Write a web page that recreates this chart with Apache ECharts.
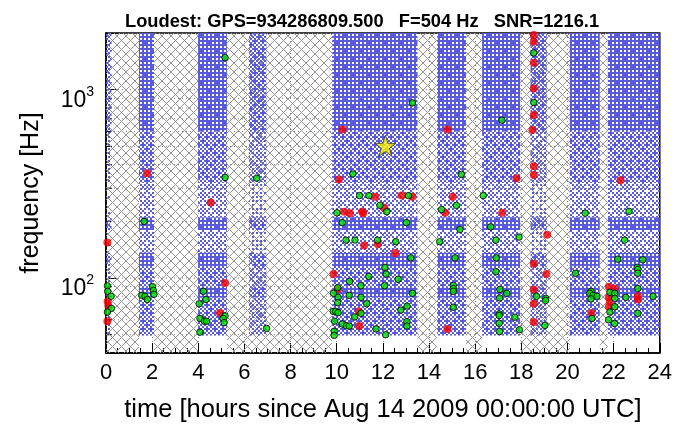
<!DOCTYPE html>
<html>
<head>
<meta charset="utf-8">
<script src="https://cdn.jsdelivr.net/npm/echarts@6/dist/echarts.min.js"></script>
<style>
  html, body { margin: 0; padding: 0; background: #fff; }
  #chart { width: 675px; height: 428px; }
</style>
</head>
<body>
<div id="chart"></div>
<script>
// ---- Data ----------------------------------------------------------------
// Axis ranges
const timeRange = [0, 24];          // hours
const freqRange = [40, 2000];       // Hz

// Vetoed / dead-time segments [start h, end h]
const deadSegments = [
  [0, 1.43], [2.08, 3.99], [5.24, 9.8], [13.5, 14.35],
  [15.6, 16.3], [17.95, 20.1], [21.4, 21.75]
];

// Segments with triggers [start h, end h, rate offset]
const liveSegments = [
  [0, 0.24, -2], [1.43, 2.08, 0], [3.99, 5.24, 0], [6.2, 6.95, -1],
  [9.8, 13.5, 0], [14.35, 15.6, 0], [16.3, 17.95, 0], [18.4, 19.1, -1],
  [20.1, 21.4, 0], [21.75, 24, 0]
];

// Frequency bands of the trigger cloud [low Hz, high Hz, rate level]
const triggerBands = [
  [900, 2000, 3], [600, 900, 3], [320, 600, 2], [210, 320, 1], [180, 210, 3],
  [136, 180, 1], [116, 136, 3], [90, 116, 2], [79, 90, 3], [49.5, 79, 2]
];

// Dotted frequency grid lines (Hz)
const freqGridLines = [50, 60, 70, 80, 90, 100, 200, 300, 400, 500, 600, 700, 800, 900, 1000];

// Clustered events [hour, Hz]
const greenEvents = [
  [0.06, 91], [0.07, 85], [0.22, 80], [0.23, 69], [0.06, 66],
  [1.65, 200], [1.55, 81], [1.69, 80], [1.79, 77], [2.02, 90], [2.05, 86], [2.08, 82],
  [5.16, 1480], [5.16, 342], [4.22, 85], [4.33, 77], [4.04, 73], [5.16, 63], [5.08, 61],
  [5.12, 58], [4.07, 61], [4.26, 59], [4.36, 59], [4.07, 51.6],
  [6.53, 339], [6.96, 54],
  [13.28, 851], [10.7, 357], [10.99, 274], [11.39, 274], [13.11, 274], [11.87, 243],
  [12.17, 225], [10.01, 222], [10.24, 197], [13.02, 197], [10.40, 159], [10.79, 159],
  [11.77, 159], [12.56, 156], [13.21, 128], [12.09, 114], [12.14, 105], [11.39, 102],
  [12.66, 98.5], [10.56, 96], [12.07, 91], [11.05, 91], [10.04, 89], [10.06, 79],
  [10.04, 74], [9.86, 83], [10.54, 81], [11.05, 79], [13.28, 83], [11.3, 73], [13.05, 71],
  [12.78, 67.6], [9.85, 66.5], [9.96, 66.5], [10.06, 65.5], [11.05, 65], [10.78, 62.2],
  [9.91, 59], [10.24, 57], [10.42, 55.8], [10.54, 55.6], [11.70, 53.7], [12.12, 50],
  [9.89, 52.2], [9.89, 49.6], [13.04, 58.7], [13.04, 55.6],
  [15.4, 355], [15.19, 243], [14.54, 231], [15.34, 181], [14.46, 156], [15.13, 128],
  [15.05, 91.3], [15.05, 87.9], [15.05, 85], [15.05, 70],
  [16.35, 274], [16.67, 187], [17.16, 689], [17.9, 165], [16.9, 159], [16.91, 128],
  [16.9, 108], [17.07, 87], [17.37, 83], [17.06, 78.4], [17.04, 64.5], [17.04, 63.2],
  [17.72, 62], [17.04, 57.5], [17.06, 52], [17.92, 53.2],
  [18.54, 1567], [18.54, 855], [18.66, 80], [19.06, 78], [19.05, 76], [19.02, 56],
  [20.77, 221], [20.35, 106], [21.02, 85], [20.97, 83], [21.11, 81], [21.28, 80],
  [21.02, 77.5], [21.06, 61],
  [21.84, 84], [22.05, 83], [22.05, 78], [22.05, 70.5], [21.84, 66], [21.78, 60], [22.04, 57.4],
  [22.67, 226], [22.48, 159], [22.18, 126], [23.26, 125], [23.02, 114], [23.05, 111],
  [23.05, 106], [23.05, 88], [22.53, 79], [23.71, 80], [23.05, 65]
];

const redEvents = [
  [0.06, 154.5], [0.07, 75], [0.1, 71], [0.06, 59],
  [1.78, 360],
  [4.54, 252], [5.16, 94], [4.94, 65.3],
  [10.25, 615], [14.8, 615],
  [18.54, 1950], [18.54, 1795], [18.54, 1390], [18.54, 1016], [18.54, 734], [18.48, 611],
  [18.54, 392], [18.54, 353],
  [17.79, 339], [22.3, 331], [17.17, 222], [19.12, 170], [18.54, 119], [19.09, 105],
  [18.54, 87], [18.54, 73], [18.54, 58.5],
  [21.79, 90], [22.05, 88], [21.79, 79], [21.84, 75], [21.79, 70.5], [21.04, 65.3],
  [23.05, 80], [23.05, 77],
  [10.09, 334], [11.67, 270], [12.81, 274], [13.28, 270], [12.06, 236], [10.32, 225],
  [10.57, 221], [11.10, 225], [11.15, 221], [11.19, 149], [11.78, 151], [12.53, 136],
  [9.86, 105], [10.06, 87.5], [10.96, 66.5], [10.98, 55.6],
  [15.03, 270], [14.7, 222], [14.8, 53.7]
];

// Loudest event [hour, Hz]
const loudestEvent = [[12.11, 504]];
const titleText = 'Loudest: GPS=934286809.500   F=504 Hz   SNR=1216.1';

// ---- Fill patterns -------------------------------------------------------
const FONT = '"Liberation Sans", Arial, Helvetica, sans-serif';
// 8x8 ordered-dither thresholds; rows/columns visited in a shuffled order
// so the stipple reads as scattered points rather than a lattice
const DITHER = [
  [0, 32, 8, 40, 2, 34, 10, 42],
  [48, 16, 56, 24, 50, 18, 58, 26],
  [12, 44, 4, 36, 14, 46, 6, 38],
  [60, 28, 52, 20, 62, 30, 54, 22],
  [3, 35, 11, 43, 1, 33, 9, 41],
  [51, 19, 59, 27, 49, 17, 57, 25],
  [15, 47, 7, 39, 13, 45, 5, 37],
  [63, 31, 55, 23, 61, 29, 53, 21]
];
const ROW_ORDER = [0, 5, 2, 7, 4, 1, 6, 3];
const COL_ORDER = [0, 3, 6, 1, 4, 7, 2, 5];
const levelCover = [0.08, 0.2, 0.4, 0.58, 0.78];

function dotPattern(cover) {
  const cell = 2, n = 8;
  const c = document.createElement('canvas');
  c.width = cell * n; c.height = cell * n;
  const g = c.getContext('2d');
  g.fillStyle = '#5a5adc';
  for (let r = 0; r < n; r++) {
    for (let q = 0; q < n; q++) {
      if (DITHER[ROW_ORDER[r]][COL_ORDER[q]] < cover * 64) {
        g.fillRect(q * cell, r * cell, cell, cell);
      }
    }
  }
  return { image: c, repeat: 'repeat' };
}

function hatchPattern() {
  const s = 9;
  const c = document.createElement('canvas');
  c.width = s; c.height = s;
  const g = c.getContext('2d');
  g.strokeStyle = '#949494';
  g.lineWidth = 1;
  g.beginPath();
  g.moveTo(-1, -1); g.lineTo(s + 1, s + 1);
  g.moveTo(-1, s + 1); g.lineTo(s + 1, -1);
  g.stroke();
  return { image: c, repeat: 'repeat' };
}

const dotFills = levelCover.map(dotPattern);
const hatchFill = hatchPattern();

// Trigger-cloud rectangles: every live segment crossed with every band
const cloudRects = [];
liveSegments.forEach(([t0, t1, off]) => {
  triggerBands.forEach(([f0, f1, lvl]) => {
    const level = Math.max(0, Math.min(4, lvl + 1 + off));
    cloudRects.push([t0, t1, f0, f1, level]);
  });
});

// ---- Chart ---------------------------------------------------------------
const chart = echarts.init(document.getElementById('chart'), null, { renderer: 'canvas' });

const option = {
  animation: false,
  backgroundColor: '#fff',
  title: {
    text: titleText,
    left: 120,
    top: 8,
    textStyle: { fontFamily: FONT, fontSize: 18.3, fontWeight: 'bold', color: '#000' }
  },
  grid: {
    left: 106, right: 15, top: 33, bottom: 63,
    show: true, borderColor: '#000', borderWidth: 1.5, backgroundColor: '#fff'
  },
  xAxis: {
    type: 'value',
    min: timeRange[0], max: timeRange[1], interval: 2,
    axisLine: { lineStyle: { color: '#000', width: 1.5 } },
    axisTick: { inside: true, length: 10, lineStyle: { color: '#000' } },
    minorTick: { show: true, splitNumber: 4, length: 5, lineStyle: { color: '#000' } },
    splitLine: { show: true, lineStyle: { color: '#808080', type: [1, 3], width: 1 } },
    axisLabel: { fontFamily: FONT, fontSize: 22, color: '#000', margin: 9 },
    name: 'time [hours since Aug 14 2009 00:00:00 UTC]',
    nameLocation: 'middle',
    nameGap: 44,
    nameTextStyle: { fontFamily: FONT, fontSize: 25.5, color: '#000' }
  },
  yAxis: {
    type: 'log',
    logBase: 10,
    min: freqRange[0], max: freqRange[1],
    axisLine: { lineStyle: { color: '#000', width: 1.5 } },
    axisTick: { inside: true, length: 12, lineStyle: { color: '#000' } },
    splitLine: { show: false },
    axisLabel: {
      margin: 12,
      verticalAlign: 'middle',
      padding: [21, 0, 0, 0],
      formatter: function (v) {
        const e = Math.log10(v);
        if (Math.abs(e - Math.round(e)) > 1e-6) return '';
        return '{b|10}{s|' + Math.round(e) + '}';
      },
      rich: {
        b: { fontFamily: FONT, fontSize: 23, color: '#000', lineHeight: 26 },
        s: { fontFamily: FONT, fontSize: 14, color: '#000', lineHeight: 12, padding: [0, 0, 17, 0] }
      }
    },
    name: 'frequency [Hz]',
    nameLocation: 'middle',
    nameGap: 62,
    nameRotate: 90,
    nameTextStyle: { fontFamily: FONT, fontSize: 25, color: '#000' }
  },
  series: [
    {
      // dotted frequency grid and minor y ticks
      type: 'custom',
      z: 1,
      silent: true,
      clip: true,
      data: freqGridLines.map(f => [f]),
      encode: { y: 0 },
      renderItem: function (params, api) {
        const cs = params.coordSys;
        const f = api.value(0);
        const y = api.coord([timeRange[0], f])[1];
        const major = Math.abs(Math.log10(f) - Math.round(Math.log10(f))) < 1e-6;
        const children = [{
          type: 'line',
          shape: { x1: cs.x, y1: y, x2: cs.x + cs.width, y2: y },
          style: { stroke: '#808080', lineWidth: 1, lineDash: [1, 3] }
        }];
        if (!major) {
          children.push({
            type: 'line',
            shape: { x1: cs.x, y1: y, x2: cs.x + 6, y2: y },
            style: { stroke: '#000', lineWidth: 1 }
          });
        }
        return { type: 'group', children: children };
      }
    },
    {
      // vetoed time: cross-hatched
      type: 'custom',
      z: 2,
      silent: true,
      clip: true,
      data: deadSegments,
      encode: { x: [0, 1] },
      renderItem: function (params, api) {
        const cs = params.coordSys;
        const x0 = api.coord([api.value(0), freqRange[1]])[0];
        const x1 = api.coord([api.value(1), freqRange[1]])[0];
        return {
          type: 'rect',
          shape: { x: x0, y: cs.y, width: x1 - x0, height: cs.height },
          style: { fill: hatchFill }
        };
      }
    },
    {
      // trigger cloud
      type: 'custom',
      z: 3,
      silent: true,
      clip: true,
      data: cloudRects,
      encode: { x: [0, 1], y: [2, 3] },
      renderItem: function (params, api) {
        const p0 = api.coord([api.value(0), api.value(3)]);
        const p1 = api.coord([api.value(1), api.value(2)]);
        return {
          type: 'rect',
          shape: { x: p0[0], y: p0[1], width: p1[0] - p0[0], height: p1[1] - p0[1] },
          style: { fill: dotFills[api.value(4)] }
        };
      }
    },
    {
      type: 'scatter',
      z: 5,
      clip: false,
      data: redEvents,
      symbol: 'circle',
      symbolSize: 8,
      itemStyle: { color: '#f00000', borderWidth: 0 }
    },
    {
      type: 'scatter',
      z: 6,
      clip: false,
      data: greenEvents,
      symbol: 'circle',
      symbolSize: 6.5,
      itemStyle: { color: '#00e000', borderColor: '#000', borderWidth: 1 }
    },
    {
      type: 'scatter',
      z: 7,
      clip: false,
      data: loudestEvent,
      symbol: 'path://M50,0 L61.8,35.1 L98.1,35.1 L68.8,56.7 L79.4,91.2 L50,70 L20.6,91.2 L31.2,56.7 L1.9,35.1 L38.2,35.1 Z',
      symbolSize: 21,
      itemStyle: { color: '#f7f200', borderColor: '#333', borderWidth: 1 }
    }
  ]
};

chart.setOption(option);
</script>
</body>
</html>
